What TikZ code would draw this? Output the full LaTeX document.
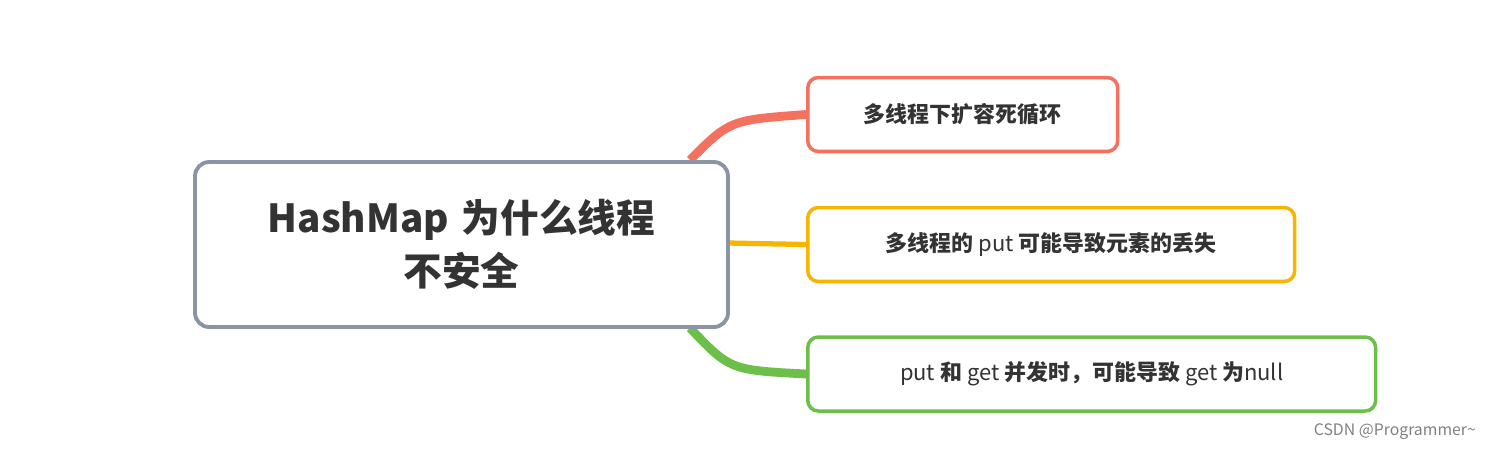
\documentclass[tikz,border=0pt]{standalone}
\usepackage{fontspec}
\setmainfont{Noto Sans CJK SC}
\usetikzlibrary{positioning}
\definecolor{rootc}{HTML}{8A94A6}
\definecolor{redc}{HTML}{F4705F}
\definecolor{orac}{HTML}{F8B500}
\definecolor{grec}{HTML}{6CC04A}
\definecolor{txtc}{HTML}{333333}
\begin{document}
\begin{tikzpicture}[x=0.02cm,y=-0.02cm,
  topic/.style={draw, line width=2pt, rounded corners=6pt, fill=white, text=txtc,
    minimum height=1.48cm, anchor=west, align=left, inner xsep=0.6cm, font=\fontsize{12.5}{15}\selectfont},
  link/.style={line width=3pt}]
  \useasboundingbox (0,0) rectangle (1506,451);
  % branches
  \coordinate (c1) at (690,160);
  \coordinate (c3) at (690,328);
  \node[topic, draw=redc, minimum width=6.2cm] (t1) at (806,114.5) {\bfseries 多线程下扩容死循环};
  \node[topic, draw=orac, minimum width=9.74cm] (t2) at (806,244.5) {\bfseries 多线程的 \mdseries put \bfseries 可能导致元素的丢失};
  \node[topic, draw=grec, minimum width=11.36cm] (t3) at (806,374) {put \bfseries 和 \mdseries get \bfseries 并发时，可能导致 \mdseries get \bfseries 为\mdseries null};
  \draw[link, redc, line width=5pt] (c1) .. controls (730,120) .. (t1.west);
  \draw[link, orac] (728,243) -- (t2.west);
  \draw[link, grec, line width=5pt] (c3) .. controls (730,370) .. (t3.west);
  % root
  \node[draw=rootc, line width=2.2pt, rounded corners=8pt, fill=white, text=txtc,
    minimum width=10.66cm, minimum height=3.3cm, align=center, text width=9cm,
    font=\bfseries\fontsize{22}{30}\selectfont] (root) at (461.5,244.5) {HashMap 为什么线程\\不安全};
  \node[text=gray, anchor=east, font=\fontsize{9}{11}\selectfont] (wm) at (1482,432) {CSDN @Programmer\textasciitilde};
\end{tikzpicture}
\end{document}
